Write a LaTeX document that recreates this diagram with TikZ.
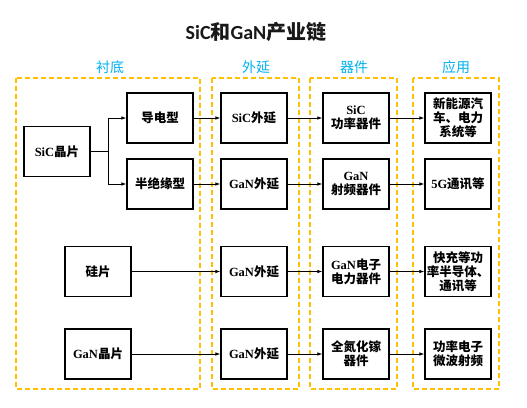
\documentclass[tikz,border=0pt]{standalone}
\usepackage{fontspec}
\setmainfont{Liberation Serif}
\newfontfamily\cjk{Noto Sans CJK SC}
\newfontfamily\ttl{Carlito}
\usetikzlibrary{positioning,arrows.meta}
\definecolor{frameorange}{HTML}{FFC000}
\definecolor{headblue}{HTML}{00B0F0}
\newcommand{\lat}[1]{{\rmfamily\bfseries #1}}

\begin{document}
\begin{tikzpicture}[x=1pt, y=-1pt,
  box/.style={draw, line width=1.1pt, minimum width=66pt, minimum height=50pt, inner sep=1pt,
    align=center, font=\cjk\bfseries\fontsize{12.5}{14}\selectfont},
  group/.style={draw=frameorange, line width=1.6pt, dash pattern=on 5pt off 3pt},
  head/.style={text=headblue, font=\cjk\fontsize{14}{16}\selectfont},
  arr/.style={line width=0.8pt, -{Latex[length=5pt,width=3.5pt]}}]
\useasboundingbox (0,0) rectangle (527,407);

\node[font=\cjk\bfseries\fontsize{20}{24}\selectfont, text=black!90] (title) at (256,32) {{\ttl\bfseries SiC}和{\ttl\bfseries GaN}产业链};

% dashed column frames
\draw[group] (16,78) rectangle (200,389);
\draw[group] (212,78) rectangle (299,389);
\draw[group] (310,78) rectangle (397,389);
\draw[group] (413,78) rectangle (499,389);
\node[head] (h1) at (110,67) {衬底};
\node[head] (h2) at (256,67) {外延};
\node[head] (h3) at (354,67) {器件};
\node[head] (h4) at (456,67) {应用};

% substrates
\node[box] (sicw) at (57,151.5) {\lat{SiC}晶片};
\node[box] (cond) at (160,118) {导电型};
\node[box] (semi) at (160,184) {半绝缘型};
\node[box] (si) at (98,271.5) {硅片};
\node[box] (ganw) at (98,354) {\lat{GaN}晶片};

% epitaxy
\node[box] (epi1) at (254,118) {\lat{SiC}外延};
\node[box] (epi2) at (254,184) {\lat{GaN}外延};
\node[box] (epi3) at (254,271.5) {\lat{GaN}外延};
\node[box] (epi4) at (254,354) {\lat{GaN}外延};

% devices
\node[box] (dev1) at (356,118) {\lat{SiC}\\功率器件};
\node[box] (dev2) at (356,184) {\lat{GaN}\\射频器件};
\node[box] (dev3) at (356,271.5) {\lat{GaN}电子\\电力器件};
\node[box] (dev4) at (356,354) {全氮化镓\\器件};

% applications
\node[box] (app1) at (458,118) {新能源汽\\车、电力\\系统等};
\node[box] (app2) at (458,184) {\lat{5G}通讯等};
\node[box] (app3) at (458,271.5) {快充等功\\率半导体、\\通讯等};
\node[box] (app4) at (458,354) {功率电子\\微波射频};

\coordinate (fork) at (108,151.5);
\draw[line width=0.8pt] (sicw) -- (fork);
\draw[arr] (fork) |- (cond);
\draw[arr] (fork) |- (semi);
\draw[arr] (cond) -- (epi1);
\draw[arr] (semi) -- (epi2);
\draw[arr] (si) -- (epi3);
\draw[arr] (ganw) -- (epi4);
\foreach \i in {1,...,4} {
  \draw[arr] (epi\i) -- (dev\i);
  \draw[arr] (dev\i) -- (app\i);
}
\end{tikzpicture}
\end{document}
